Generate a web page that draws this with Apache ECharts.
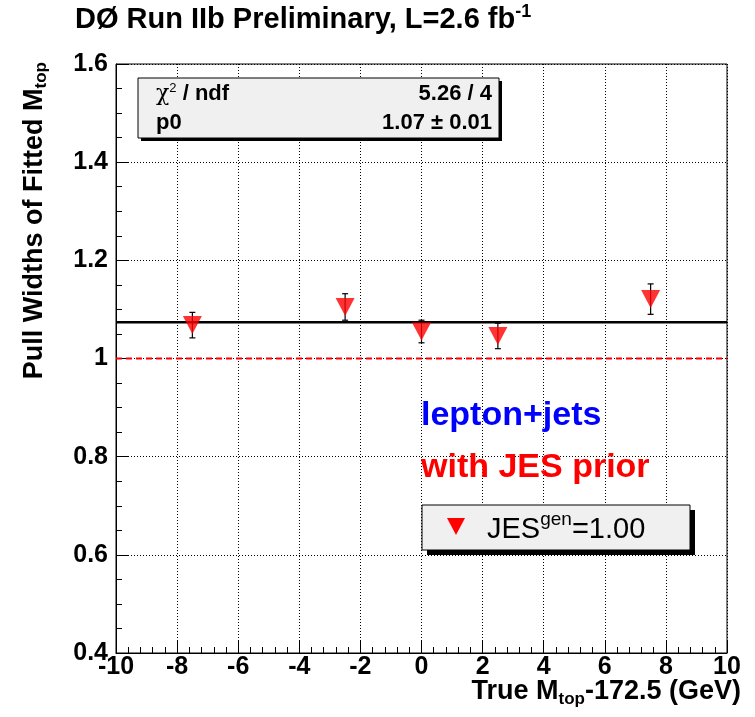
<!DOCTYPE html>
<html><head><meta charset="utf-8">
<script src="https://cdn.jsdelivr.net/npm/echarts@6/dist/echarts.min.js"></script>
<style>html,body{margin:0;padding:0;background:#fff}#c{width:755px;height:717px}</style>
</head><body><div id="c"></div>
<script>
const xVals = [-7.5, -2.5, 0, 2.5, 7.5];
const yVals = [1.068, 1.105, 1.055, 1.046, 1.121];
const yErr  = [0.026, 0.027, 0.023, 0.026, 0.031];
const fitValue = 1.074;
const refValue = 1.0;
const xRange = [-10, 10];
const yRange = [0.4, 1.6];

const chart = echarts.init(document.getElementById('c'), null, {renderer: 'canvas'});
const F = 'Liberation Sans, Arial, Helvetica, sans-serif';

const pts = xVals.map((x, i) => [x, yVals[i], yErr[i]]);

chart.setOption({
  animation: false,
  backgroundColor: '#fff',
  grid: {left: 116, top: 64, width: 611, height: 589, show: true, borderColor: '#000', borderWidth: 1, containLabel: false},
  xAxis: {
    type: 'value', min: xRange[0], max: xRange[1], interval: 2,
    axisLine: {show: true, onZero: false, lineStyle: {color: '#000', width: 1}},
    axisTick: {show: true, inside: true, length: 12, lineStyle: {color: '#000'}},
    minorTick: {show: true, splitNumber: 5, length: 6, lineStyle: {color: '#000'}},
    splitLine: {show: true, lineStyle: {color: '#000', type: [1, 2], width: 1}},
    axisLabel: {color: '#000', fontFamily: F, fontWeight: 'bold', fontSize: 25, margin: 2, showMinLabel: true, showMaxLabel: true}
  },
  yAxis: {
    type: 'value', min: yRange[0], max: yRange[1], interval: 0.2,
    axisLine: {show: true, onZero: false, lineStyle: {color: '#000', width: 1}},
    axisTick: {show: true, inside: true, length: 12, lineStyle: {color: '#000'}},
    minorTick: {show: true, splitNumber: 4, length: 6, lineStyle: {color: '#000'}},
    splitLine: {show: true, lineStyle: {color: '#000', type: [1, 2], width: 1}},
    axisLabel: {color: '#000', fontFamily: F, fontWeight: 'bold', fontSize: 25, margin: 8, showMinLabel: true, showMaxLabel: true}
  },
  series: [
    {
      type: 'line', data: [[xRange[0], refValue], [xRange[1], refValue]], symbol: 'none', silent: true,
      lineStyle: {color: '#ff0000', width: 2, type: [6, 4]}, z: 2
    },
    {
      type: 'line', data: [[xRange[0], fitValue], [xRange[1], fitValue]], symbol: 'none', silent: true,
      lineStyle: {color: '#000', width: 2.5}, z: 3
    },
    {
      type: 'custom', data: pts, z: 4,
      renderItem: function (params, api) {
        const x = api.value(0), y = api.value(1), e = api.value(2);
        const top = api.coord([x, y + e]);
        const bot = api.coord([x, y - e]);
        const st = {stroke: '#000', lineWidth: 1.2};
        return {type: 'group', children: [
          {type: 'line', shape: {x1: top[0], y1: top[1], x2: bot[0], y2: bot[1]}, style: st},
          {type: 'line', shape: {x1: top[0] - 3, y1: top[1], x2: top[0] + 3, y2: top[1]}, style: st},
          {type: 'line', shape: {x1: bot[0] - 3, y1: bot[1], x2: bot[0] + 3, y2: bot[1]}, style: st}
        ]};
      }
    },
    {
      type: 'scatter', data: pts.map(p => [p[0], p[1]]), symbol: 'triangle', symbolRotate: 180,
      symbolSize: [19, 18], itemStyle: {color: '#ff0000'}, z: 5
    }
  ],
  graphic: [
    {type: 'text', left: 75, top: 3, z: 10, style: {
      rich: {t: {fontFamily: F, fontWeight: 'bold', fontSize: 29, fill: '#000'},
             s: {fontFamily: F, fontWeight: 'bold', fontSize: 18, fill: '#000', padding: [0, 0, 16, 0]}},
      text: '{t|DØ Run IIb Preliminary, L=2.6 fb}{s|-1}'}},
    {type: 'text', z: 10, x: 35, y: 62, rotation: Math.PI / 2, style: {
      rich: {t: {fontFamily: F, fontWeight: 'bold', fontSize: 27, fill: '#000'},
             s: {fontFamily: F, fontWeight: 'bold', fontSize: 17, fill: '#000', padding: [12, 0, 0, 0]}},
      text: '{t|Pull Widths of Fitted M}{s|top}', align: 'right', verticalAlign: 'middle'}},
    {type: 'text', z: 10, x: 741, y: 692, style: {
      rich: {t: {fontFamily: F, fontWeight: 'bold', fontSize: 27, fill: '#000'},
             s: {fontFamily: F, fontWeight: 'bold', fontSize: 17, fill: '#000', padding: [14, 0, 0, 0]}},
      text: '{t|True M}{s|top}{t|-172.5 (GeV)}', align: 'right', verticalAlign: 'middle'}},
    // stats box
    {type: 'rect', z: 10, shape: {x: 141, y: 81, width: 361, height: 60}, style: {fill: '#000'}},
    {type: 'rect', z: 11, shape: {x: 138, y: 78, width: 361, height: 60}, style: {fill: '#f0f0f0', stroke: '#000', lineWidth: 1}},
    {type: 'text', z: 12, x: 156, y: 94, style: {
      rich: {t: {fontFamily: F, fontWeight: 'bold', fontSize: 22, fill: '#000'},
             c: {fontFamily: 'DejaVu Serif, serif', fontSize: 22, fill: '#000'},
             s: {fontFamily: F, fontSize: 13, fill: '#000', padding: [0, 0, 11, 0]}},
      text: '{c|χ}{s|2}{t| / ndf}', verticalAlign: 'middle'}},
    {type: 'text', z: 12, x: 492, y: 94, style: {text: '5.26 / 4', fontFamily: F, fontWeight: 'bold', fontSize: 22, fill: '#000', align: 'right', verticalAlign: 'middle'}},
    {type: 'text', z: 12, x: 156, y: 123, style: {text: 'p0', fontFamily: F, fontWeight: 'bold', fontSize: 22, fill: '#000', verticalAlign: 'middle'}},
    {type: 'text', z: 12, x: 492, y: 123, style: {text: '1.07 ± 0.01', fontFamily: F, fontWeight: 'bold', fontSize: 22, fill: '#000', align: 'right', verticalAlign: 'middle'}},
    // labels
    {type: 'text', z: 10, x: 421, y: 416, style: {text: 'lepton+jets', fontFamily: F, fontWeight: 'bold', fontSize: 34, fill: '#0000ff', verticalAlign: 'middle'}},
    {type: 'text', z: 10, x: 421, y: 468, style: {text: 'with JES prior', fontFamily: F, fontWeight: 'bold', fontSize: 34, fill: '#ff0000', verticalAlign: 'middle'}},
    // legend box
    {type: 'rect', z: 10, shape: {x: 427, y: 510, width: 268, height: 45}, style: {fill: '#000'}},
    {type: 'rect', z: 11, shape: {x: 422, y: 505, width: 268, height: 45}, style: {fill: '#f0f0f0', stroke: '#000', lineWidth: 1}},
    {type: 'polygon', z: 12, shape: {points: [[447, 518], [465, 518], [456, 535]]}, style: {fill: '#ff0000'}},
    {type: 'text', z: 12, x: 487, y: 530, style: {
      rich: {t: {fontFamily: F, fontSize: 29, fill: '#000'},
             s: {fontFamily: F, fontSize: 19, fill: '#000', padding: [0, 0, 20, 0]}},
      text: '{t|JES}{s|gen}{t|=1.00}', verticalAlign: 'middle'}}
  ]
});
</script></body></html>
